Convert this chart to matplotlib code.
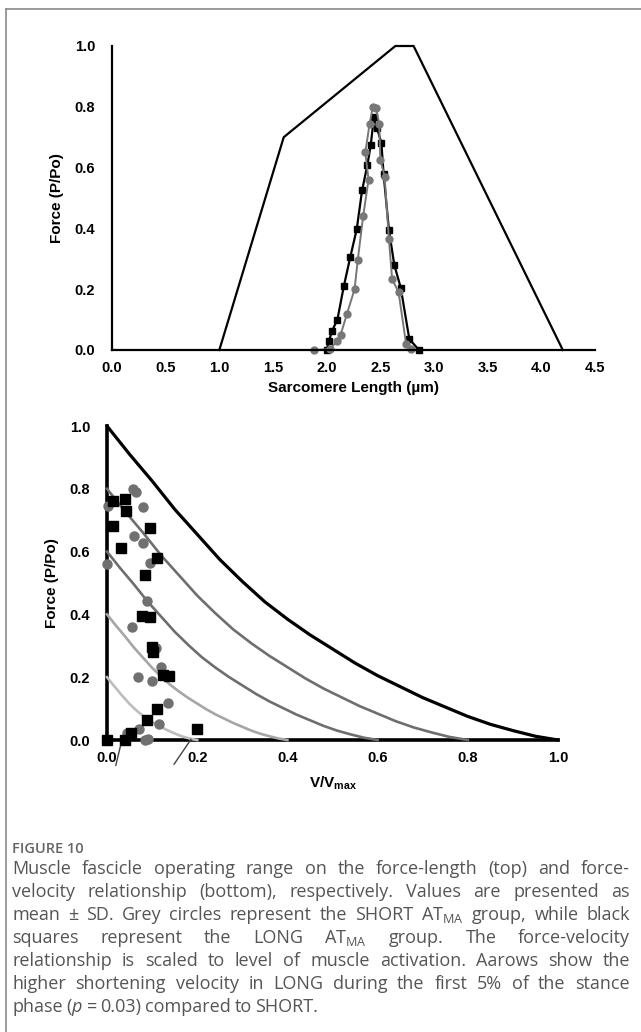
import matplotlib
matplotlib.use("Agg")
import matplotlib.pyplot as plt
from matplotlib.lines import Line2D
import numpy as np

plt.rcParams['font.family'] = ['Liberation Sans', 'DejaVu Sans']
plt.rcParams['mathtext.fontset'] = 'custom'
plt.rcParams['mathtext.rm'] = 'Open Sans'
plt.rcParams['mathtext.it'] = 'Open Sans:italic'
plt.rcParams['mathtext.bf'] = 'Liberation Sans:bold'

# ---- top panel: force-length ----
fl_length = [1.0, 1.6, 2.64, 2.81, 4.2]
fl_force = [0.0, 0.7, 1.0, 1.0, 0.0]

long_len = [2.00, 2.02, 2.05, 2.10, 2.16, 2.22, 2.28, 2.33, 2.38, 2.41, 2.44,
            2.47, 2.51, 2.53, 2.58, 2.63, 2.69, 2.77, 2.86]
long_force = [0.0, 0.028, 0.063, 0.10, 0.21, 0.306, 0.397, 0.525, 0.61, 0.673, 0.765,
              0.73, 0.68, 0.58, 0.395, 0.28, 0.205, 0.036, 0.0]

short_len = [1.88, 2.03, 2.10, 2.13, 2.19, 2.26, 2.29, 2.34, 2.39, 2.36, 2.40,
             2.43, 2.46, 2.49, 2.50, 2.54, 2.58, 2.61, 2.67, 2.74, 2.79]
short_force = [0.0, 0.003, 0.03, 0.05, 0.12, 0.20, 0.297, 0.44, 0.56, 0.65, 0.744,
               0.80, 0.795, 0.744, 0.626, 0.57, 0.364, 0.233, 0.19, 0.02, 0.004]

# ---- bottom panel: force-velocity ----
fv_vel = [0.0, 0.05, 0.1, 0.15, 0.2, 0.25, 0.3, 0.35, 0.4, 0.45, 0.5,
          0.55, 0.6, 0.65, 0.7, 0.75, 0.8, 0.85, 0.9, 0.95, 1.0]
fv_force = [1.0, 0.91, 0.825, 0.735, 0.655, 0.575, 0.505, 0.44, 0.385, 0.335, 0.29,
            0.245, 0.205, 0.17, 0.135, 0.105, 0.075, 0.05, 0.03, 0.012, 0.0]
activations = [0.8, 0.6, 0.4, 0.2]
act_colors = ['#6e6e6e', '#6e6e6e', '#a6a6a6', '#bdbdbd']

short_v = [0.058, 0.064, 0.0015, 0.079, 0.06, 0.079, 0.095, 0.0, 0.088, 0.056, 0.108,
           0.12, 0.069, 0.10, 0.136, 0.116, 0.072, 0.044, 0.084, 0.092, 0.0]
short_f = [0.80, 0.79, 0.745, 0.743, 0.65, 0.626, 0.565, 0.56, 0.443, 0.36, 0.294,
           0.233, 0.20, 0.188, 0.119, 0.051, 0.035, 0.021, 0.0, 0.002, 0.0]

long_v = [0.014, 0.041, 0.042, 0.014, 0.095, 0.031, 0.11, 0.084, 0.078, 0.095, 0.099,
          0.103, 0.125, 0.138, 0.11, 0.088, 0.053, 0.04, 0.0, 0.199]
long_f = [0.762, 0.767, 0.729, 0.68, 0.676, 0.61, 0.58, 0.525, 0.395, 0.393, 0.297,
          0.28, 0.207, 0.204, 0.10, 0.064, 0.023, 0.0, 0.0, 0.034]

caption_lines = [
    "Muscle fascicle operating range on the force-length (top) and force-",
    "velocity relationship (bottom), respectively. Values are presented as",
    "mean \u00b1 SD. Grey circles represent the SHORT AT$_{\\mathrm{MA}}$ group, while black",
    "squares represent the LONG AT$_{\\mathrm{MA}}$ group. The force-velocity",
    "relationship is scaled to level of muscle activation. Aarows show the",
    "higher shortening velocity in LONG during the first 5% of the stance",
    "phase ($p$ = 0.03) compared to SHORT.",
]

W, H = 641, 1032
fig = plt.figure(figsize=(W / 100, H / 100), dpi=100)

def fx(px):
    return px / W

def fy(py):
    return 1 - py / H

tick_font = dict(fontsize=10.5, fontweight='bold')

# top axes
ax1 = fig.add_axes([fx(112), fy(350), fx(595 - 112), (350 - 46) / H])
ax1.plot(fl_length, fl_force, color='black', lw=1.6, clip_on=False)
ax1.plot(long_len, long_force, color='black', lw=1.6, marker='s', ms=4.5, clip_on=False)
ax1.plot(short_len, short_force, color='#777777', lw=1.4, marker='o', ms=5,
         markeredgecolor='#777777', clip_on=False)
ax1.set_xlim(0, 4.5)
ax1.set_ylim(0, 1.0)
ax1.set_xticks(np.arange(0, 4.51, 0.5))
ax1.set_yticks(np.arange(0, 1.01, 0.2))
ax1.set_xticklabels([f"{v:.1f}" for v in np.arange(0, 4.51, 0.5)], **tick_font)
ax1.set_yticklabels([f"{v:.1f}" for v in np.arange(0, 1.01, 0.2)], **tick_font)
ax1.tick_params(axis='x', length=0, pad=8)
ax1.tick_params(axis='y', length=0, pad=12)
for s in ['top', 'right']:
    ax1.spines[s].set_visible(False)
for s in ['left', 'bottom']:
    ax1.spines[s].set_linewidth(1.6)
ax1.set_xlabel("Sarcomere Length (\u00b5m)", fontsize=11, fontweight='bold', labelpad=4)
ax1.set_ylabel("Force (P/Po)", fontsize=11, fontweight='bold', labelpad=8)

# bottom axes
ax2 = fig.add_axes([fx(107), fy(740), fx(558 - 107), (740 - 426) / H])
fv_v = np.array(fv_vel)
fv_f = np.array(fv_force)
ax2.plot(fv_v, fv_f, color='black', lw=2.3, zorder=3, clip_on=False)
for a, c in zip(activations, act_colors):
    ax2.plot(fv_v * a, fv_f * a, color=c, lw=1.9, zorder=3, clip_on=False)
ax2.plot(short_v, short_f, ls='none', marker='o', ms=6.5, color='#707070', zorder=4, clip_on=False)
ax2.plot(long_v, long_f, ls='none', marker='s', ms=6.5, color='black', zorder=5, clip_on=False)
ax2.set_xlim(0, 1.0)
ax2.set_ylim(0, 1.0)
ax2.set_xticks(np.arange(0, 1.01, 0.2))
ax2.set_yticks(np.arange(0, 1.01, 0.2))
ax2.set_xticklabels([f"{v:.1f}" for v in np.arange(0, 1.01, 0.2)], **tick_font)
ax2.set_yticklabels([f"{v:.1f}" for v in np.arange(0, 1.01, 0.2)], **tick_font)
ax2.tick_params(axis='x', length=0, pad=8)
ax2.tick_params(axis='y', length=0, pad=12)
for s in ['top', 'right']:
    ax2.spines[s].set_visible(False)
for s in ['left', 'bottom']:
    ax2.spines[s].set_linewidth(2.6)
ax2.set_xlabel("V/V$_{\\mathbf{max}}$", fontsize=11, fontweight='bold', labelpad=7)
ax2.set_ylabel("Force (P/Po)", fontsize=11, fontweight='bold', labelpad=8)

# arrows under the x axis
ax2.annotate("", xy=(0.033, 0.0), xytext=(0.018, -0.09),
             arrowprops=dict(arrowstyle='-', color='#444444', lw=1.0), annotation_clip=False)
ax2.annotate("", xy=(0.19, 0.01), xytext=(0.145, -0.085),
             arrowprops=dict(arrowstyle='-', color='#444444', lw=1.0), annotation_clip=False)

# page frame
fig.add_artist(Line2D([fx(6), 1], [fy(9), fy(9)], color='#8a8a8a', lw=1.2))
fig.add_artist(Line2D([fx(6), fx(6)], [fy(9), 0], color='#8a8a8a', lw=1.2))

# caption
cap_kw = dict(fontsize=13.0, color='#555555', family=['Open Sans', 'DejaVu Sans'],
              va='baseline', ha='left')

fig.text(fx(12), fy(853), "FIGURE 10", fontsize=10.5, color='#666666',
         family=['Open Sans', 'DejaVu Sans'], fontweight='semibold', va='baseline')

renderer = fig.canvas.get_renderer()
baselines = [874, 897, 920, 943, 966, 989, 1012]
x_left, x_right = 12, 630
for i, (line, yb) in enumerate(zip(caption_lines, baselines)):
    words = line.split(" ")
    texts = [fig.text(0, fy(yb), w, **cap_kw) for w in words]
    widths = [t.get_window_extent(renderer).width for t in texts]
    if i < len(caption_lines) - 1:
        gap = ((x_right - x_left) - sum(widths)) / (len(words) - 1)
    else:
        gap = 3.6
    x = x_left
    for t, w in zip(texts, widths):
        t.set_x(fx(x))
        x += w + gap

fig.savefig("out.png", dpi=100)
